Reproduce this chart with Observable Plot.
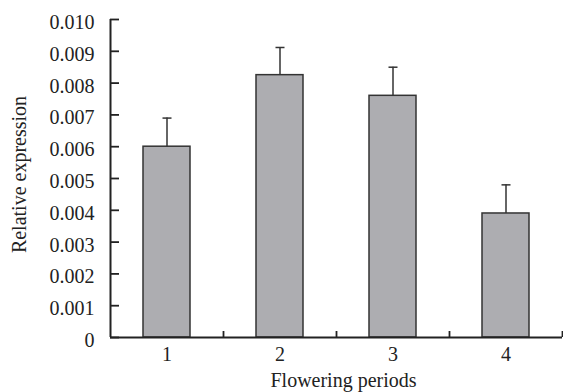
<!DOCTYPE html>
<html><head><meta charset="utf-8">
<script src="https://cdn.jsdelivr.net/npm/d3@7"></script>
<script src="https://cdn.jsdelivr.net/npm/@observablehq/plot@0.6"></script>
<style>body{margin:0;background:#fff}</style>
</head><body><div id="chart"></div>
<script>
const periods = [1, 2, 3, 4];
const expression = [0.0060, 0.00825, 0.0076, 0.0039];
const errors = [0.0009, 0.00087, 0.0009, 0.0009];
const yTicks = [0, 0.001, 0.002, 0.003, 0.004, 0.005, 0.006, 0.007, 0.008, 0.009, 0.010];
const xLabel = "Flowering periods";
const yLabel = "Relative expression";

const data = periods.map((p, i) => ({period: p, value: expression[i], err: errors[i]}));
const boundaries = periods.map(p => p + 0.5);
const capSymbol = {draw(ctx, size) { const r = Math.sqrt(size / Math.PI); ctx.moveTo(-r, 0); ctx.lineTo(r, 0); }};
const ink = "#222";
const serif = "'Liberation Serif', 'DejaVu Serif', serif";

const chart = Plot.plot({
  width: 563, height: 392,
  marginLeft: 110, marginRight: 1, marginTop: 19, marginBottom: 55,
  style: {fontFamily: serif, fontSize: "20px", color: ink, background: "#fff"},
  x: {type: "linear", domain: [0.5, 4.5]},
  y: {domain: [0, 0.010]},
  marks: [
    Plot.rectY(data, {x1: d => d.period - 0.5, x2: d => d.period + 0.5, y: "value", insetLeft: 33, insetRight: 33, fill: "#adadb1", stroke: "#333", strokeWidth: 1.5}),
    Plot.ruleX(data, {x: "period", y1: "value", y2: d => d.value + d.err, stroke: "#333", strokeWidth: 1.5}),
    Plot.dot(data, {x: "period", y: d => d.value + d.err, symbol: capSymbol, r: 4.5, stroke: "#333", strokeWidth: 1.5}),
    Plot.axisY({ticks: yTicks, tickSize: 0, tickPadding: 16, dy: 3, label: null, fontSize: 20, fontFamily: serif,
      tickFormat: d => d === 0 ? "0" : d3.format(".3f")(d)}),
    Plot.axisY({ticks: yTicks, tickSize: -9, tickFormat: () => "", label: null, strokeWidth: 1.8, stroke: ink}),
    Plot.axisX({ticks: periods, tickSize: 0, tickPadding: 9, label: null, fontSize: 20, fontFamily: serif, tickFormat: d => String(d)}),
    Plot.axisX({ticks: boundaries, tickSize: -6, tickFormat: () => "", label: null, strokeWidth: 1.8, stroke: ink}),
    Plot.ruleX([0.5], {stroke: ink, strokeWidth: 2}),
    Plot.ruleY([0], {stroke: ink, strokeWidth: 2}),
    Plot.text([yLabel], {text: d => d, frameAnchor: "left", textAnchor: "middle", lineAnchor: "middle", dx: -90.5, dy: -4, rotate: -90, fontSize: 20, fontFamily: serif, fill: ink}),
    Plot.text([xLabel], {text: d => d, frameAnchor: "bottom", textAnchor: "middle", lineAnchor: "middle", dx: 7, dy: 43, fontSize: 20, fontFamily: serif, fill: ink})
  ]
});
document.getElementById("chart").appendChild(chart);
</script>
</body></html>
